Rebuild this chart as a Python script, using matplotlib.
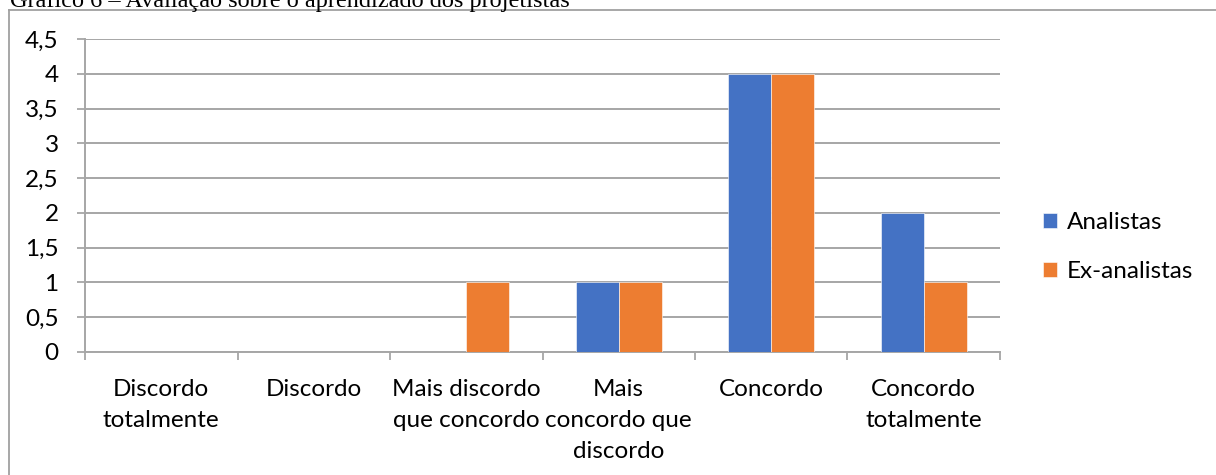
import matplotlib
matplotlib.use("Agg")
import matplotlib.pyplot as plt
import numpy as np
from matplotlib.lines import Line2D

categories = ["Discordo\ntotalmente", "Discordo", "Mais discordo\nque concordo",
              "Mais\nconcordo que\ndiscordo", "Concordo", "Concordo\ntotalmente"]
series_names = ["Analistas", "Ex-analistas"]
analistas = [0, 0, 0, 1, 4, 2]
ex_analistas = [0, 0, 1, 1, 4, 1]
y_ticks = [0, 0.5, 1, 1.5, 2, 2.5, 3, 3.5, 4, 4.5]
y_tick_labels = ["0", "0,5", "1", "1,5", "2", "2,5", "3", "3,5", "4", "4,5"]
title = "Gráfico 6 – Avaliação sobre o aprendizado dos projetistas"

BLUE = "#4472C4"
ORANGE = "#ED7D31"
GRID = "#A6A6A6"
FONT = "Lato"
FS = 17.5

fig = plt.figure(figsize=(12.16, 4.75), dpi=100)
W, H = 1216, 475
ax = fig.add_axes([85 / W, 1 - 352 / H, (1000 - 85) / W, (352 - 39) / H])

x = np.arange(len(categories))
bw = 0.282
ax.bar(x - bw / 2, analistas, bw, color=BLUE, label=series_names[0],
       edgecolor="white", linewidth=0.4, zorder=3)
ax.bar(x + bw / 2, ex_analistas, bw, color=ORANGE, label=series_names[1],
       edgecolor="white", linewidth=0.4, zorder=3)

ax.set_xlim(-0.5, len(categories) - 0.5)
ax.set_ylim(0, 4.5)
ax.set_yticks(y_ticks)
ax.set_yticklabels(y_tick_labels, fontfamily=FONT, fontsize=FS)
ax.yaxis.grid(True, color=GRID, linewidth=1.4, zorder=0)
ax.set_axisbelow(True)

ax.set_xticks(x)
ax.set_xticklabels(categories, fontfamily=FONT, fontsize=FS, linespacing=1.58)
ax.set_xticks(np.arange(len(categories) + 1) - 0.5, minor=True)
ax.tick_params(axis="x", which="major", length=0, pad=19.5)
ax.tick_params(axis="x", which="minor", length=6, width=1.3, color=GRID)
ax.tick_params(axis="y", which="major", length=6, width=1.3, color=GRID, pad=13)

for side in ("top", "right"):
    ax.spines[side].set_visible(False)
for side in ("left", "bottom"):
    ax.spines[side].set_color(GRID)
    ax.spines[side].set_linewidth(1.4)

fig.legend(loc="center left", bbox_to_anchor=(1021 / W, 1 - 247 / H),
           frameon=False, prop={"family": FONT, "size": FS},
           handlelength=0.6, handleheight=0.6, handletextpad=0.4,
           labelspacing=1.15)

# outer chart frame (left and top edges)
fig.add_artist(Line2D([9 / W, 9 / W], [0, 1 - 10 / H], transform=fig.transFigure,
                      color="#A0A0A0", linewidth=1.3))
fig.add_artist(Line2D([9 / W, 1], [1 - 10 / H, 1 - 10 / H], transform=fig.transFigure,
                      color="#A0A0A0", linewidth=1.3))

fig.text(10 / W, 1 - 6.5 / H, title, family="Liberation Serif", fontsize=17.5,
         ha="left", va="baseline")

fig.savefig("out.png", dpi=100)
